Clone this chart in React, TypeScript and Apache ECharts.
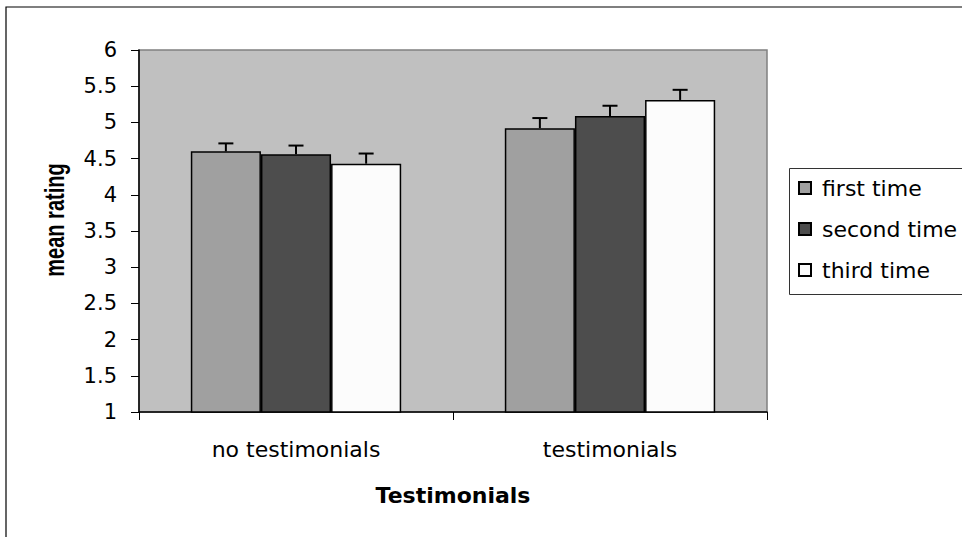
import React, { useEffect, useRef } from "react";
import * as echarts from "echarts";

const categories = ["no testimonials", "testimonials"];
const seriesNames = ["first time", "second time", "third time"];
const firstTime = [4.6, 4.92];
const secondTime = [4.56, 5.09];
const thirdTime = [4.43, 5.31];
const firstErr = [0.11, 0.14];
const secondErr = [0.12, 0.14];
const thirdErr = [0.14, 0.14];
const yTicks = { min: 1, max: 6, interval: 0.5 };

const colors = ["#A0A0A0", "#4D4D4D", "#FCFCFC"];
const CAT_GAP = 0.33;

export default function App() {
  const ref = useRef<HTMLDivElement>(null);
  useEffect(() => {
    if (!ref.current) return;
    const chart = echarts.init(ref.current, null, { renderer: "svg" });
    const values = [firstTime, secondTime, thirdTime];
    const errs = [firstErr, secondErr, thirdErr];
    const errData: number[][] = [];
    values.forEach((arr, s) =>
      arr.forEach((v, c) => errData.push([c, s, v, errs[s][c]]))
    );
    const n = seriesNames.length;
    const font = "DejaVu Sans";
    chart.setOption({
      animation: false,
      backgroundColor: "#FFFFFF",
      textStyle: { fontFamily: font },
      grid: {
        left: 139,
        right: 195,
        top: 50,
        bottom: 125,
        show: true,
        backgroundColor: "#C0C0C0",
        borderColor: "#808080",
        borderWidth: 1.5,
      },
      legend: {
        data: seriesNames,
        orient: "vertical",
        left: 789,
        top: 168,
        padding: [9, 0, 13, 9],
        itemGap: 19,
        itemWidth: 12,
        itemHeight: 12,
        icon: "rect",
        textStyle: {
          fontFamily: font,
          fontSize: 22,
          color: "#000",
          padding: [0, 0, 0, 6],
        },
      },
      xAxis: {
        type: "category",
        data: categories,
        name: "Testimonials",
        nameLocation: "middle",
        nameGap: 72,
        nameTextStyle: {
          fontFamily: font,
          fontWeight: "bold",
          fontSize: 22,
          color: "#000",
        },
        axisLine: { lineStyle: { color: "#000", width: 1.5 } },
        axisTick: { show: true, length: 8, lineStyle: { color: "#000", width: 1 } },
        axisLabel: { fontFamily: font, fontSize: 22, color: "#000", margin: 26 },
        splitLine: { show: false },
      },
      yAxis: {
        type: "value",
        min: yTicks.min,
        max: yTicks.max,
        interval: yTicks.interval,
        axisLine: { show: true, lineStyle: { color: "#000", width: 1.5 } },
        axisTick: { show: true, length: 8, lineStyle: { color: "#000", width: 1 } },
        axisLabel: { fontFamily: font, fontSize: 21, color: "#000", margin: 22 },
        splitLine: { show: false },
      },
      graphic: [
        {
          type: "rect",
          silent: true,
          z: -1,
          shape: { x: 6, y: 7, width: 1000, height: 600 },
          style: { fill: "none", stroke: "#000", lineWidth: 1.2 },
        },
        {
          type: "rect",
          silent: true,
          z: 0,
          shape: { x: 789.5, y: 168.5, width: 220, height: 126 },
          style: { fill: "#FFFFFF", stroke: "#333333", lineWidth: 1 },
        },
        {
          type: "text",
          x: 54,
          y: 220,
          rotation: Math.PI / 2,
          scaleY: 1.4,
          style: {
            text: "mean rating",
            fontFamily: "Liberation Sans",
            fontWeight: "bold",
            fontSize: 20,
            fill: "#000",
            align: "center",
            verticalAlign: "middle",
          },
        },
      ],
      series: [
        ...seriesNames.map((name, i) => ({
          name,
          type: "bar",
          data: values[i],
          barGap: "0%",
          barCategoryGap: CAT_GAP * 100 + "%",
          itemStyle: { color: colors[i], borderColor: "#000", borderWidth: 1.5 },
        })),
        {
          name: "error",
          type: "custom",
          data: errData,
          encode: { x: 0, y: 2 },
          z: 5,
          renderItem: (params: any, api: any) => {
            const c = api.value(0);
            const s = api.value(1);
            const v = api.value(2);
            const e = api.value(3);
            const base = api.coord([c, v]);
            const top = api.coord([c, v + e]);
            const band = api.size([1, 0])[0];
            const bw = (band * (1 - CAT_GAP)) / n;
            const x = base[0] + (s - (n - 1) / 2) * bw;
            const style = { stroke: "#000", lineWidth: 2 };
            return {
              type: "group",
              children: [
                { type: "line", shape: { x1: x, y1: base[1], x2: x, y2: top[1] }, style },
                { type: "line", shape: { x1: x - 7.5, y1: top[1], x2: x + 7.5, y2: top[1] }, style },
              ],
            };
          },
        },
      ],
    });
    return () => chart.dispose();
  }, []);
  return (
    <div
      ref={ref}
      style={{ position: "fixed", left: 0, top: 0, width: 962, height: 537 }}
    />
  );
}
